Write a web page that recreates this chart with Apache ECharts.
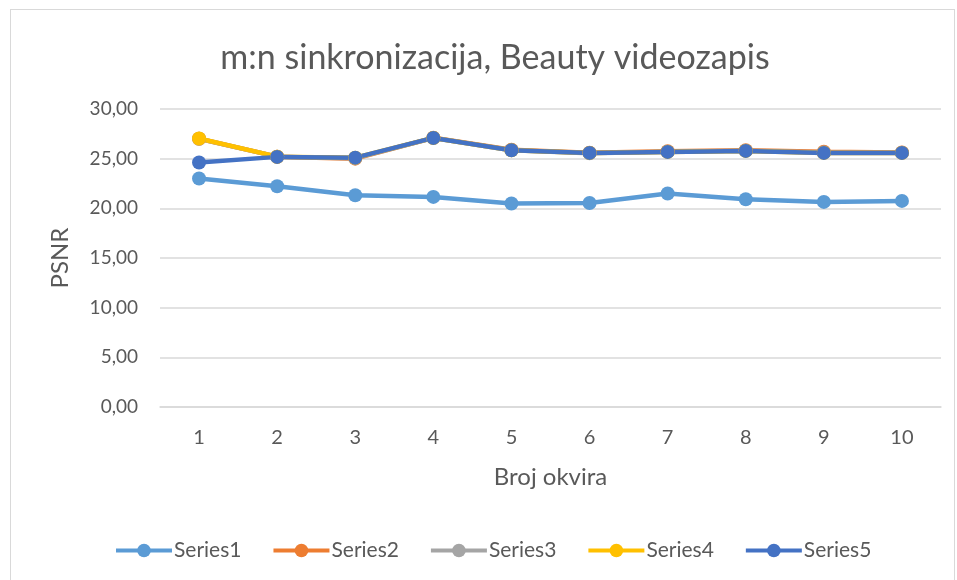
<!DOCTYPE html>
<html>
<head>
<meta charset="utf-8">
<script src="https://cdn.jsdelivr.net/npm/echarts@6.0.0/dist/echarts.min.js"></script>
<style>
  html, body { margin: 0; padding: 0; background: #fff; }
  #chart { position: absolute; left: 0; top: 0; width: 957px; height: 580px; }
  #frame { position: absolute; left: 10px; top: 9px; width: 945px; height: 575px; border: 1px solid #d9d9d9; box-sizing: border-box; }
</style>
</head>
<body>
<div id="frame"></div>
<div id="chart"></div>
<script>
// frame numbers on the x axis
const categories = ["1", "2", "3", "4", "5", "6", "7", "8", "9", "10"]

// PSNR values
const series1 = [23.00, 22.23, 21.32, 21.15, 20.48, 20.54, 21.49, 20.92, 20.65, 20.75]
const series2 = [27.00, 25.20, 25.00, 27.10, 25.90, 25.60, 25.75, 25.85, 25.70, 25.62]
const series3 = [27.00, 25.20, 25.05, 27.08, 25.85, 25.55, 25.70, 25.80, 25.62, 25.60]
const series4 = [27.03, 25.20, 25.10, 27.09, 25.85, 25.58, 25.68, 25.78, 25.58, 25.58]
const series5 = [24.61, 25.18, 25.10, 27.09, 25.85, 25.58, 25.68, 25.78, 25.58, 25.58]

const names = ["Series1", "Series2", "Series3", "Series4", "Series5"]
const COLORS = ["#5B9BD5", "#ED7D31", "#A5A5A5", "#FFC000", "#4472C4"]
const TEXT = "#595959"
const GRID = "#D9D9D9"
const FONT = "Lato, 'Open Sans', sans-serif"

const myChart = echarts.init(document.getElementById("chart"))

const makeLine = (name, data, color) => ({
    name: name,
    type: "line",
    data: data,
    symbol: "circle",
    symbolSize: 14,
    lineStyle: { width: 4.5, color: color },
    itemStyle: { color: color },
    emphasis: { disabled: true }
})

const option = {
    animation: false,
    color: COLORS,
    textStyle: { fontFamily: FONT },
    title: {
        text: "m:n sinkronizacija, Beauty videozapis",
        left: 490,
        textAlign: "center",
        top: 36,
        textStyle: { color: TEXT, fontSize: 34, fontWeight: "normal", fontFamily: FONT }
    },
    grid: { left: 160, right: 16, top: 109, bottom: 173 },
    legend: {
        top: 535,
        left: 109,
        itemWidth: 56,
        itemHeight: 17,
        itemGap: 30,
        lineStyle: { width: 4 },
        textStyle: { color: TEXT, fontSize: 21, fontFamily: FONT, padding: [0, 0, 0, -3] },
        data: names
    },
    xAxis: {
        type: "category",
        data: categories,
        boundaryGap: true,
        name: "Broj okvira",
        nameLocation: "middle",
        nameGap: 58,
        nameTextStyle: { color: TEXT, fontSize: 24, fontFamily: FONT },
        axisLine: { lineStyle: { color: GRID, width: 1.5 } },
        axisTick: { show: false },
        axisLabel: { color: TEXT, fontSize: 20, margin: 21, fontFamily: FONT }
    },
    yAxis: {
        type: "value",
        min: 0,
        max: 30,
        interval: 5,
        name: "PSNR",
        nameLocation: "middle",
        nameGap: 88,
        nameRotate: 90,
        nameTextStyle: { color: TEXT, fontSize: 24, fontFamily: FONT },
        axisLine: { show: false },
        axisTick: { show: false },
        splitLine: { lineStyle: { color: GRID, width: 1.5 } },
        axisLabel: {
            color: TEXT,
            fontSize: 19,
            margin: 22,
            fontFamily: FONT,
            formatter: v => v.toFixed(2).replace(".", ",")
        }
    },
    series: [
        makeLine(names[0], series1, COLORS[0]),
        makeLine(names[1], series2, COLORS[1]),
        makeLine(names[2], series3, COLORS[2]),
        makeLine(names[3], series4, COLORS[3]),
        makeLine(names[4], series5, COLORS[4])
    ]
}

myChart.setOption(option)
</script>
</body>
</html>
